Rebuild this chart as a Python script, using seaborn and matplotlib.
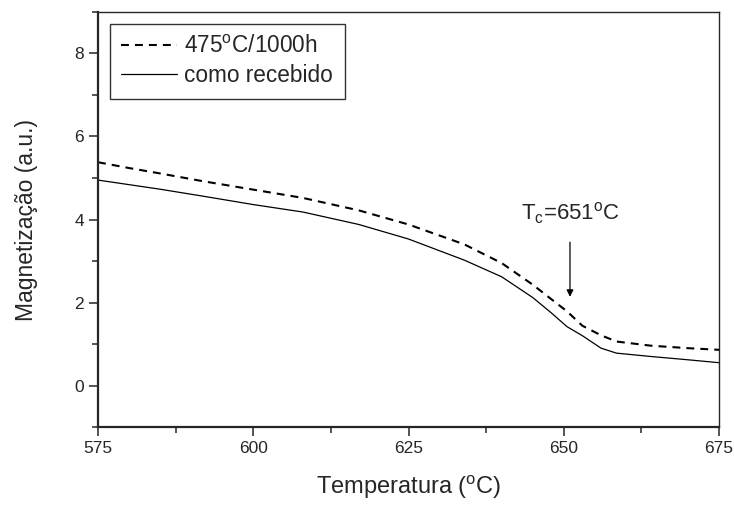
import numpy as np
import pandas as pd
import matplotlib
matplotlib.use('Agg')
import matplotlib.pyplot as plt
from matplotlib.ticker import MultipleLocator
import seaborn as sns

sns.set_style('ticks')
plt.rcParams['font.family'] = ['Liberation Sans', 'DejaVu Sans']
plt.rcParams['mathtext.default'] = 'regular'

# dados
temperatura = [575, 580, 585, 592, 600, 608, 617, 625, 634, 640, 645, 648,
               650.5, 653, 656, 658.5, 664, 670, 675]
envelhecido = [5.38, 5.24, 5.11, 4.92, 4.72, 4.52, 4.22, 3.88, 3.40, 2.95,
               2.43, 2.08, 1.79, 1.44, 1.21, 1.06, 0.96, 0.90, 0.86]
como_recebido = [4.95, 4.84, 4.73, 4.56, 4.36, 4.18, 3.88, 3.53, 3.02, 2.62,
                 2.12, 1.75, 1.42, 1.20, 0.90, 0.78, 0.70, 0.62, 0.55]
rotulos = ['475$^{o}$C/1000h', 'como recebido']
tc = 651

df = pd.DataFrame({'T': temperatura, 'a': envelhecido, 'b': como_recebido})

fig = plt.figure(figsize=(7.34, 5.08), dpi=100)
ax = fig.add_axes([0.1335, 0.1594, 0.9796 - 0.1335, 0.9764 - 0.1594])

sns.lineplot(data=df, x='T', y='a', ax=ax, color='black', lw=1.5,
             dashes=False, label=rotulos[0])
ax.lines[-1].set_dashes((3.8, 2.9))
sns.lineplot(data=df, x='T', y='b', ax=ax, color='black', lw=0.9,
             label=rotulos[1])

ax.set_xlim(575, 675)
ax.set_ylim(-1, 9)
ax.xaxis.set_major_locator(MultipleLocator(25))
ax.xaxis.set_minor_locator(MultipleLocator(12.5))
ax.yaxis.set_major_locator(MultipleLocator(2))
ax.yaxis.set_minor_locator(MultipleLocator(1))
ax.tick_params(which='major', direction='out', length=6.5, width=1.1,
               labelsize=12.5, top=False, right=False)
ax.tick_params(which='minor', direction='out', length=4, width=1.1,
               top=False, right=False)

for s in ['left', 'bottom']:
    ax.spines[s].set_linewidth(1.6)
for s in ['top', 'right']:
    ax.spines[s].set_linewidth(1.0)

ax.set_xlabel('Temperatura ($^{o}$C)', fontsize=17, labelpad=13)
ax.set_ylabel('Magnetização (a.u.)', fontsize=16.5, labelpad=26)

ax.annotate('', xy=(tc, 2.07), xytext=(tc, 3.52),
            arrowprops=dict(arrowstyle='-|>', color='black', lw=0.9,
                            mutation_scale=10))
ax.text(tc, 4.15, 'T$_c$=651$^{o}$C', ha='center', va='center', fontsize=16)

leg = ax.legend(loc='upper left', bbox_to_anchor=(0.019, 0.971),
                fontsize=16.3, frameon=True, fancybox=False,
                edgecolor='black', handlelength=2.45, handletextpad=0.35,
                borderpad=0.5, labelspacing=0.26, borderaxespad=0)
leg.get_frame().set_linewidth(1.0)

fig.savefig('out.png', dpi=100)
